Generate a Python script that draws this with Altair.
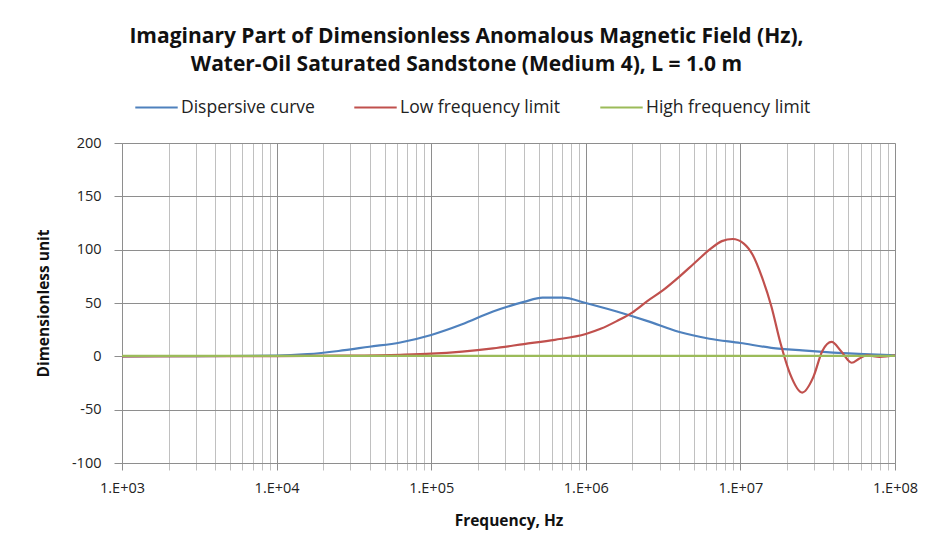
import altair as alt
import pandas as pd

# ---- data ----
series_names = ["Dispersive curve", "Low frequency limit", "High frequency limit"]
series_colors = ["#4F81BD", "#C0504D", "#9BBB59"]

# frequencies given as log10(Hz)
disp_exp = [3.0, 3.5, 4.0, 4.2, 4.4, 4.6, 4.8, 5.0, 5.2, 5.4, 5.6, 5.72, 5.85, 6.0,
            6.2, 6.4, 6.6, 6.8, 7.0, 7.2, 7.4, 7.6, 7.8, 8.0]
disp_val = [0, 0.2, 0.6, 2, 5, 9, 13, 20, 30, 42, 51, 55, 55, 50,
            42, 33, 23, 16.5, 12.5, 8, 5.5, 3.5, 2, 1]

low_exp = [3.0, 4.0, 4.4, 4.8, 5.0, 5.2, 5.4, 5.6, 5.8, 6.0, 6.1, 6.2, 6.3, 6.4, 6.5,
           6.6, 6.7, 6.8, 6.88, 6.95, 7.02, 7.08, 7.14, 7.2, 7.26, 7.32, 7.40, 7.47,
           7.53, 7.59, 7.65, 7.72, 7.77, 7.82, 7.9, 8.0]
low_val = [0, 0.2, 0.6, 1.5, 2.5, 4.5, 7.5, 11.5, 15.5, 21, 26, 33, 41, 52, 62,
           74, 87, 100, 108, 110, 106, 95, 74, 47, 12, -16, -34, -20,
           5, 13.5, 5, -6, -2, 1, -0.5, 1]

high_exp = [3.0, 4.0, 5.0, 6.0, 7.0, 8.0]
high_val = [0.5, 0.5, 0.5, 0.5, 0.5, 0.5]

y_ticks = [-100, -50, 0, 50, 100, 150, 200]
x_ticks = [m * 10 ** d for d in range(3, 8) for m in range(1, 10)] + [10 ** 8]

title_lines = ["Imaginary Part of Dimensionless Anomalous Magnetic Field (Hz),",
               "Water-Oil Saturated Sandstone (Medium 4), L = 1.0 m"]

rows = []
for name, exps, vals in zip(series_names, [disp_exp, low_exp, high_exp],
                            [disp_val, low_val, high_val]):
    for e, v in zip(exps, vals):
        rows.append({"series": name, "freq": 10 ** e, "value": v})
df = pd.DataFrame(rows)

FONT = "Open Sans"
MAJOR = "#8e8e8e"
MINOR = "#c0c0c0"
is_major = "abs(log(datum.value)/LN10 - round(log(datum.value)/LN10)) < 0.001"

x_axis = alt.Axis(
    values=x_ticks,
    labelExpr=f"{is_major} ? '1.E+0' + round(log(datum.value)/LN10) : ''",
    labelOverlap=False, labelFlush=False, labelBound=False,
    gridColor={"condition": {"test": is_major, "value": MAJOR}, "value": MINOR},
    tickColor={"condition": {"test": is_major, "value": MAJOR}, "value": MINOR},
    domainColor=MAJOR, tickSize=7, labelPadding=11,
    labelFont=FONT, labelFontSize=14.5, labelColor="#222222",
    title="Frequency, Hz", titleFont=FONT, titleFontSize=15.5, titleFontWeight="bold",
    titleColor="#111111", titleBaseline="middle", titleY=57,
)

y_axis = alt.Axis(
    values=y_ticks, labelExpr="'' + datum.value",
    gridColor=MAJOR, domainColor=MAJOR, tickColor=MAJOR,
    tickSize=8, labelPadding=13, labelFont=FONT, labelFontSize=14.5, labelColor="#222222",
    title="Dimensionless unit", titleFont=FONT, titleFontSize=15.5, titleFontWeight="bold",
    titleColor="#111111", titleBaseline="middle", titleX=-79, titleY=160, titleAngle=270,
)

chart = alt.Chart(df).mark_line(strokeWidth=2.2, interpolate="monotone").encode(
    x=alt.X("freq:Q", scale=alt.Scale(type="log", domain=[1e3, 1e8], nice=False), axis=x_axis),
    y=alt.Y("value:Q", scale=alt.Scale(domain=[-100, 200], nice=False, zero=False), axis=y_axis),
    color=alt.Color(
        "series:N",
        scale=alt.Scale(domain=series_names, range=series_colors),
        legend=alt.Legend(
            title=None, orient="none", direction="horizontal",
            legendX=12, legendY=-58, symbolType="stroke", symbolSize=1800,
            symbolStrokeWidth=2.2, labelFont=FONT, labelFontSize=17.5, labelLimit=400,
            labelColor="#222222", columnPadding=34, labelOffset=2, padding=0,
        ),
    ),
    detail="series:N",
).properties(
    width=773, height=320,
    padding={"left": 122, "top": 143, "right": 35, "bottom": 83},
    autosize=alt.AutoSizeParams(type="none"),
    title=alt.TitleParams(
        text=title_lines, font=FONT, fontSize=21, fontWeight="bold", color="#111111",
        anchor="middle", frame="group", dx=-42, baseline="bottom", lineHeight=28, offset=-11,
    ),
).configure_view(strokeWidth=0).configure(background="white")

chart.save("out.html", embed_options={"renderer": "svg", "actions": False})
